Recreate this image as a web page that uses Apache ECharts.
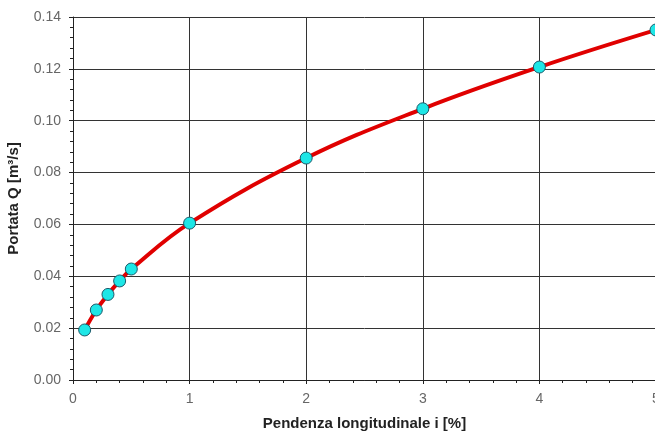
<!DOCTYPE html>
<html>
<head>
<meta charset="utf-8">
<script src="https://cdn.jsdelivr.net/npm/echarts@6/dist/echarts.min.js"></script>
<style>html,body{margin:0;padding:0;background:#fff}#c{width:655px;height:432px}</style>
</head>
<body>
<div id="c"></div>
<script>
const slope = [0.1, 0.2, 0.3, 0.4, 0.5, 1, 2, 3, 4, 5];
const portata = [0.0193, 0.0270, 0.0330, 0.0382, 0.0428, 0.0605, 0.0856, 0.1046, 0.1207, 0.1350];
const xTitle = 'Pendenza longitudinale i [%]';
const yTitle = 'Portata Q [m³/s]';

const chart = echarts.init(document.getElementById('c'), null, {renderer: 'canvas'});
chart.setOption({
  backgroundColor: '#fff',
  animation: false,
  grid: {left: 73, right: -1, top: 17, bottom: 52, containLabel: false, outerBoundsMode: 'none'},
  xAxis: {
    type: 'value', min: 0, max: 5, interval: 1,
    name: xTitle, nameLocation: 'middle', nameGap: 36,
    nameTextStyle: {fontFamily: 'Liberation Sans', fontWeight: 'bold', fontSize: 15, color: '#222'},
    axisLine: {lineStyle: {color: '#222', width: 1}},
    axisTick: {show: true, length: 4, lineStyle: {color: '#222'}},
    minorTick: {show: true, splitNumber: 5, length: 3, lineStyle: {color: '#222'}},
    axisLabel: {fontFamily: 'Liberation Sans', fontSize: 14, color: '#666', margin: 12},
    splitLine: {show: true, lineStyle: {color: '#333', width: 1}}
  },
  yAxis: {
    type: 'value', min: 0, max: 0.14, interval: 0.02,
    name: yTitle, nameLocation: 'middle', nameGap: 52,
    nameTextStyle: {fontFamily: 'Liberation Sans', fontWeight: 'bold', fontSize: 15, color: '#222'},
    axisLine: {show: true, lineStyle: {color: '#222', width: 1}},
    axisTick: {show: true, length: 4, lineStyle: {color: '#222'}},
    minorTick: {show: true, splitNumber: 5, length: 3, lineStyle: {color: '#222'}},
    axisLabel: {fontFamily: 'Liberation Sans', fontSize: 14, color: '#666', margin: 12,
      formatter: v => v.toFixed(2)},
    splitLine: {show: true, lineStyle: {color: '#333', width: 1}}
  },
  series: [{
    type: 'line',
    data: slope.map((x, i) => [x, portata[i]]),
    smooth: 0.4,
    clip: false,
    lineStyle: {color: '#e00000', width: 4},
    symbol: 'circle', symbolSize: 12,
    itemStyle: {color: '#1ee6e6', borderColor: '#1a5a6a', borderWidth: 1}
  }]
});
</script>
</body>
</html>
